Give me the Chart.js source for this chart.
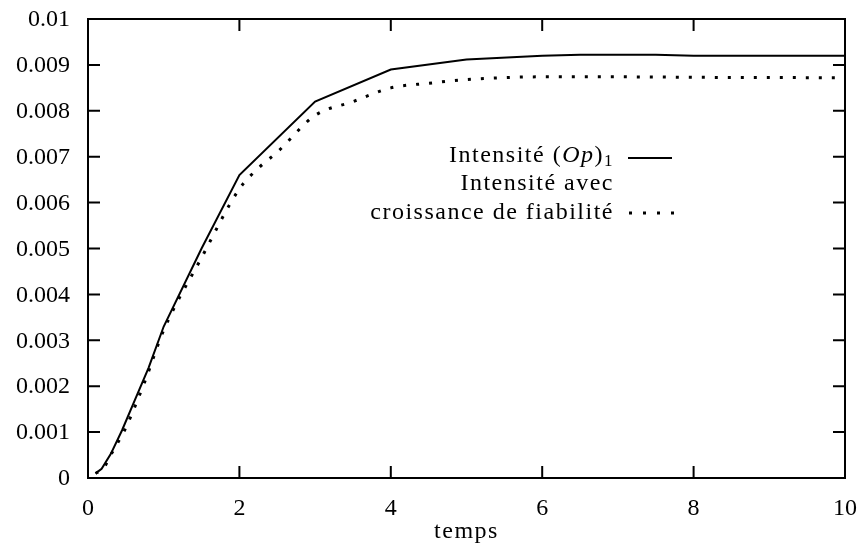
<!DOCTYPE html>
<html>
<head>
<meta charset="utf-8">
<style>
  html, body { margin: 0; padding: 0; background: #fff; }
  #wrap { width: 857px; height: 548px; }
</style>
<script src="https://cdn.jsdelivr.net/npm/chart.js@4/dist/chart.umd.min.js"></script>
</head>
<body>
<div id="wrap"><canvas id="c"></canvas></div>
<script>
// values
const xSolid = [0.1, 0.18, 0.3, 0.45, 0.62, 0.8, 1.0, 1.5, 2.0, 3.0, 4.0, 5.0, 6.0, 6.5, 7.5, 8.0, 10.0];
const ySolid = [0.0001, 0.0002, 0.00052, 0.00104, 0.0017, 0.0024, 0.0033, 0.0050, 0.0066, 0.0082, 0.0089, 0.00912, 0.0092, 0.00922, 0.00922, 0.0092, 0.0092];

const xDotted = [0.1, 0.2, 0.3, 0.5, 0.75, 1.0, 1.5, 2.0, 2.25, 2.5, 3.0, 3.5, 4.0, 4.5, 5.0, 6.0, 7.0, 8.0, 10.0];
const yDotted = [0.0001, 0.0002, 0.0005, 0.0011, 0.0021, 0.00322, 0.0048, 0.0063, 0.00675, 0.0071, 0.0079, 0.0082, 0.0085, 0.0086, 0.00868, 0.00874, 0.00874, 0.00873, 0.00872];

const xTicks = [0, 2, 4, 6, 8, 10];
const yTicks = [0, 0.001, 0.002, 0.003, 0.004, 0.005, 0.006, 0.007, 0.008, 0.009, 0.01];
const yTickLabels = ["0", "0.001", "0.002", "0.003", "0.004", "0.005", "0.006", "0.007", "0.008", "0.009", "0.01"];
const xTitle = "temps";
const legendSolid = ["Intensité ", "(", "Op", ")", "1"];
const legendDotted = ["Intensité avec", "croissance de fiabilité"];

const FONT = "'Liberation Serif', 'DejaVu Serif', serif";
const FS = 24;

function toPoints(xs, ys) {
    return xs.map((x, i) => ({ x: x, y: ys[i] }));
}

// gnuplot style frame with inward, mirrored ticks + legend
const framePlugin = {
    id: "frame",
    afterDraw(chart) {
        const ctx = chart.ctx;
        const a = chart.chartArea;
        const xs = chart.scales.x;
        const ys = chart.scales.y;
        const tl = 12;

        ctx.save();
        ctx.strokeStyle = "#000";
        ctx.lineWidth = 2;
        ctx.strokeRect(a.left, a.top, a.right - a.left, a.bottom - a.top);

        ctx.beginPath();
        xTicks.forEach(v => {
            const px = xs.getPixelForValue(v);
            ctx.moveTo(px, a.bottom); ctx.lineTo(px, a.bottom - tl);
            ctx.moveTo(px, a.top); ctx.lineTo(px, a.top + tl);
        });
        yTicks.forEach(v => {
            const py = ys.getPixelForValue(v);
            ctx.moveTo(a.left, py); ctx.lineTo(a.left + tl, py);
            ctx.moveTo(a.right, py); ctx.lineTo(a.right - tl, py);
        });
        ctx.stroke();

        // tick labels
        ctx.fillStyle = "#000";
        ctx.font = FS + "px " + FONT;
        ctx.textAlign = "right";
        ctx.textBaseline = "middle";
        yTicks.forEach((v, i) => {
            ctx.fillText(yTickLabels[i], a.left - 18, ys.getPixelForValue(v) + 1);
        });
        ctx.textAlign = "center";
        xTicks.forEach(v => {
            ctx.fillText(String(v), xs.getPixelForValue(v), a.bottom + 31);
        });
        ctx.letterSpacing = "1.5px";
        ctx.fillText(xTitle, (a.left + a.right) / 2, a.bottom + 54);

        // legend
        const rx = 614;
        const y1 = 156, y2 = 184, y3 = 213;
        ctx.textAlign = "left";
        const sub = Math.round(FS * 0.7);
        let parts = [
            { t: legendSolid[0], f: FS + "px " + FONT, dy: 0 },
            { t: legendSolid[1], f: FS + "px " + FONT, dy: 0 },
            { t: legendSolid[2], f: "italic " + FS + "px " + FONT, dy: 0 },
            { t: legendSolid[3], f: FS + "px " + FONT, dy: 0 },
            { t: legendSolid[4], f: sub + "px " + FONT, dy: 6 }
        ];
        let w = 0;
        parts.forEach(p => { ctx.font = p.f; w += ctx.measureText(p.t).width; });
        let cx = rx - w;
        parts.forEach(p => {
            ctx.font = p.f;
            ctx.fillText(p.t, cx, y1 + p.dy);
            cx += ctx.measureText(p.t).width;
        });
        ctx.font = FS + "px " + FONT;
        ctx.textAlign = "right";
        ctx.fillText(legendDotted[0], rx, y2);
        ctx.fillText(legendDotted[1], rx, y3);
        ctx.letterSpacing = "0px";

        ctx.lineWidth = 2;
        ctx.beginPath();
        ctx.moveTo(628, y1 + 2); ctx.lineTo(672, y1 + 2);
        ctx.stroke();
        ctx.lineWidth = 3;
        ctx.setLineDash([3, 11]);
        ctx.beginPath();
        ctx.moveTo(629, y3); ctx.lineTo(675, y3);
        ctx.stroke();
        ctx.restore();
    }
};

new Chart(document.getElementById("c"), {
    type: "line",
    data: {
        datasets: [
            {
                label: "Intensité (Op)1",
                data: toPoints(xSolid, ySolid),
                borderColor: "#000",
                borderWidth: 2,
                pointRadius: 0,
                tension: 0,
                fill: false
            },
            {
                label: "Intensité avec croissance de fiabilité",
                data: toPoints(xDotted, yDotted),
                borderColor: "#000",
                borderWidth: 3,
                borderDash: [3, 10],
                pointRadius: 0,
                cubicInterpolationMode: "monotone",
                fill: false
            }
        ]
    },
    options: {
        responsive: true,
        maintainAspectRatio: false,
        animation: false,
        layout: { padding: { top: 19, right: 12, left: 0, bottom: 0 } },
        plugins: {
            legend: { display: false },
            tooltip: { enabled: false }
        },
        scales: {
            x: {
                type: "linear",
                min: 0,
                max: 10,
                grid: { display: false },
                border: { display: false },
                ticks: { display: false },
                afterFit(s) { s.height = 70; }
            },
            y: {
                min: 0,
                max: 0.01,
                grid: { display: false },
                border: { display: false },
                ticks: { display: false },
                afterFit(s) { s.width = 88; }
            }
        }
    },
    plugins: [framePlugin]
});
</script>
</body>
</html>
